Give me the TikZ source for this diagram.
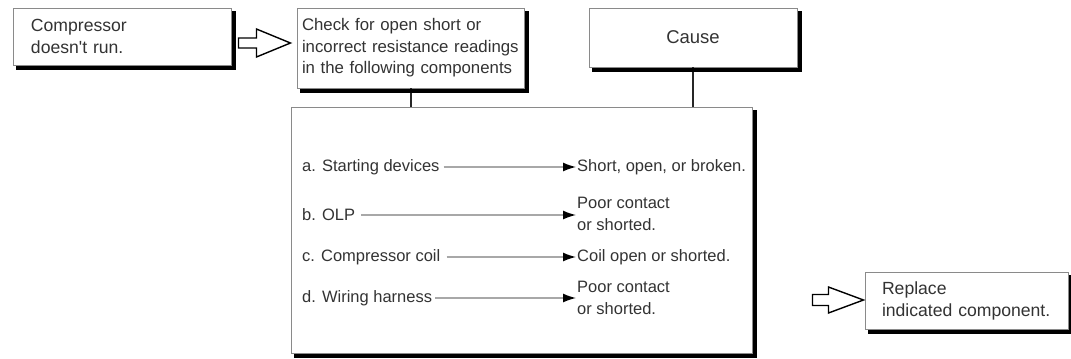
\documentclass[tikz,border=0pt]{standalone}
\usepackage{fontspec}
\setmainfont[Ligatures=TeXOff]{Liberation Sans}
\usetikzlibrary{arrows.meta,calc}
\definecolor{txt}{HTML}{333333}
\definecolor{edge}{HTML}{8A8A8A}
\definecolor{conn}{HTML}{A8A8A8}
\begin{document}
\begin{tikzpicture}[x=1bp,y=-1bp,
  every node/.style={font=\fontsize{16.5bp}{22.5bp}\selectfont, text=txt},
  box/.style={draw=edge, line width=0.9bp, fill=white, inner ysep=0pt, inner xsep=#1,
    align=left, anchor=center},
  shadowline/.style={draw=black, line width=3.6bp, line cap=butt, line join=miter},
  bigfont/.style={font=\fontsize{17.6bp}{22bp}\selectfont},
  lbl/.style={anchor=west, inner sep=0pt, align=left},
  rowarrow/.style={draw=conn, line width=1.4bp, shorten >=1bp,
    -{Latex[length=13bp,width=9bp,color=black]}},
  vline/.style={draw=black!85, line width=2bp},
  hollow/.style={draw=black, line width=1.4bp, fill=white, line join=miter}
]
\useasboundingbox (0,0) rectangle (1071,358);

\node[box=18bp, bigfont, text width=182bp, minimum height=57bp] (b1) at (122,36.5) {Compressor\\doesn't run.};
\node[box=5bp, font=\fontsize{16.8bp}{21.5bp}\selectfont, text width=217bp, minimum height=80bp] (b2) at (410.5,48) {Check for open short or\\incorrect resistance readings\\in the following components};
\node[box=0pt, font=\fontsize{18.5bp}{22bp}\selectfont, text width=208bp, align=center, minimum height=59bp] (cause) at (693,37.5) {Cause};
\node[box=0pt, minimum width=461bp, minimum height=246bp] (big) at (521.5,230) {};
\node[box=17bp, bigfont, text width=169bp, minimum height=57bp] (rep) at (966.5,300.5) {Replace\\indicated component.};

\draw[vline] (b2.south) -- (b2.south |- big.north);
\draw[vline] (cause.south) -- (cause.south |- big.north);

\foreach \nm in {b1,b2,cause,big,rep}{
  \draw[shadowline] ($(\nm.north east)+(2.25,3.5)$) -- ($(\nm.south east)+(2.25,2.25)$)
    -- ($(\nm.south west)+(3.5,2.25)$);
}

\node[lbl] (la) at (302,167) {a. Starting devices};
\node[lbl] (lb) at (302,215) {b. OLP};
\node[lbl] (lc) at (302,257) {c. Compressor coil};
\node[lbl] (ld) at (302,298) {d. Wiring harness};

\node[lbl] (ra) at (577,167) {Short, open, or broken.};
\node[lbl] (rb) at (577,214) {Poor contact\\or shorted.};
\node[lbl] (rc) at (577,257) {Coil open or shorted.};
\node[lbl] (rd) at (577,298) {Poor contact\\or shorted.};

\draw[rowarrow] ($(la.east)+(4,0)$) -- (ra.west |- la.east);
\draw[rowarrow] ($(lb.east)+(6,0)$) -- (rb.west |- lb.east);
\draw[rowarrow] ($(lc.east)+(6,0)$) -- (rc.west |- lc.east);
\draw[rowarrow] ($(ld.east)+(3,0)$) -- (rd.west |- ld.east);

\coordinate (a1) at ($(b1.east)+(7,6.5)$);
\coordinate (a2) at ($(big.east)+(60,70)$);
\begin{scope}[shift={(a1)}]
  \draw[hollow] (0,-5) -- (18,-5) -- (18,-14) -- (52,0) -- (18,14) -- (18,5) -- (0,5) -- cycle;
\end{scope}
\begin{scope}[shift={(a2)}]
  \draw[hollow] (0,-5.5) -- (16,-5.5) -- (16,-13) -- (51,0) -- (16,13) -- (16,5.5) -- (0,5.5) -- cycle;
\end{scope}
\end{tikzpicture}
\end{document}
